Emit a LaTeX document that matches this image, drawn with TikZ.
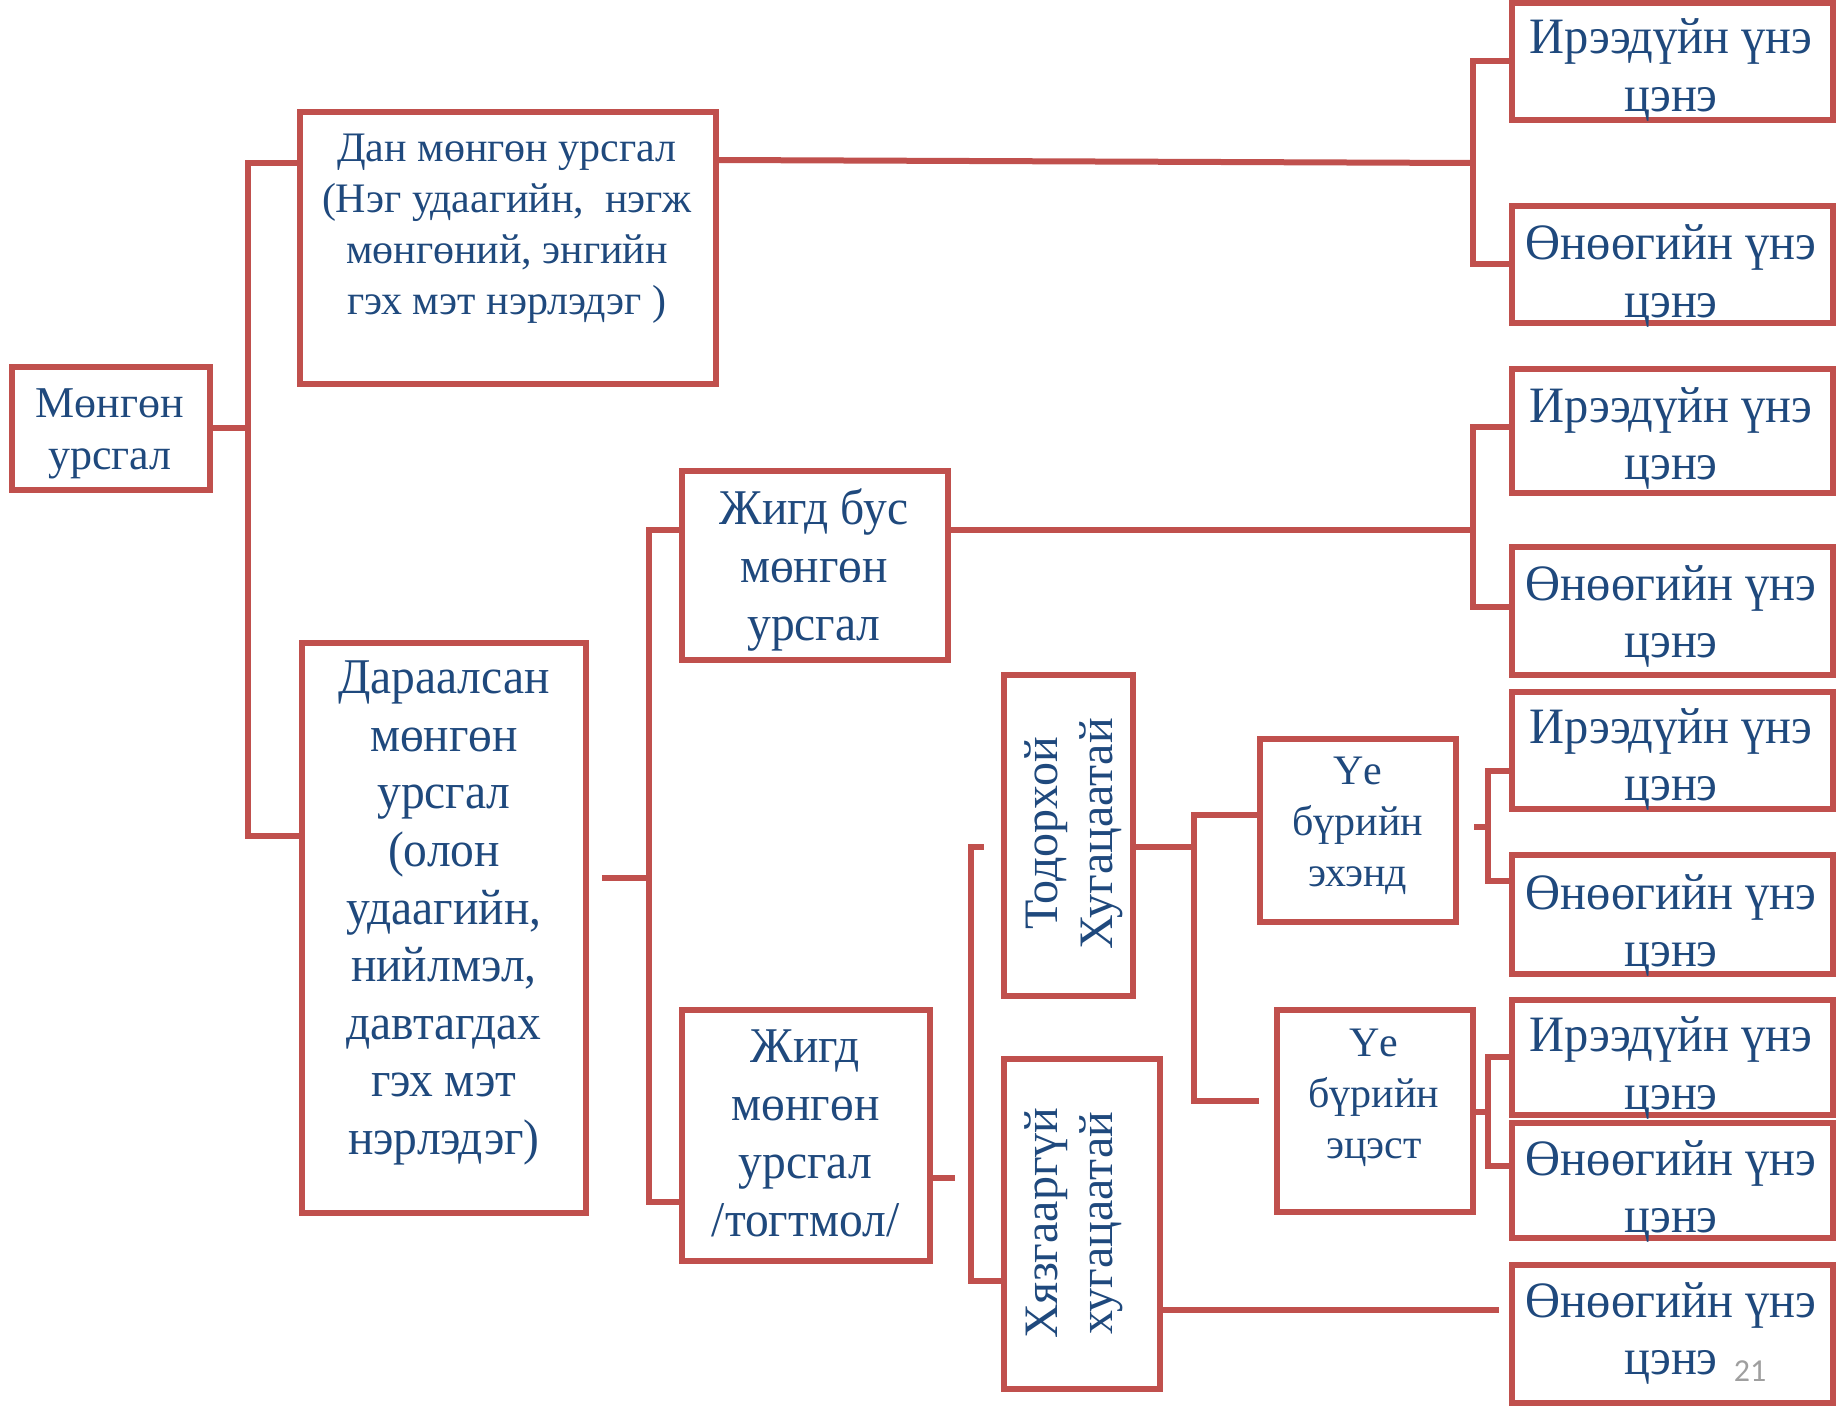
\documentclass[tikz,border=0pt]{standalone}
\usepackage{fontspec}
\setmainfont{Liberation Serif}
\newfontfamily\narrowserif{Liberation Serif}[FakeStretch=0.95]
\newfontfamily\numfont{Carlito}
\definecolor{boxred}{HTML}{C0504D}
\definecolor{txtblue}{HTML}{1F497D}
\begin{document}
\begin{tikzpicture}[x=0.5pt,y=-0.5pt,
  box/.style 2 args={draw=boxred, line width=3pt, fill=none, inner sep=0pt,
     minimum width=#1*0.5pt, minimum height=#2*0.5pt},
  txt/.style={text=txtblue, align=center, inner sep=0pt},
  conn/.style={draw=boxred, line width=3pt, line join=miter},
  fR/.style={font=\narrowserif\fontsize{25.5}{28.75}\selectfont},
  fM/.style={font=\fontsize{22}{26}\selectfont},
  fDan/.style={font=\fontsize{21}{25.5}\selectfont},
  fD/.style={font=\narrowserif\fontsize{25}{28.8}\selectfont},
  fJ/.style={font=\narrowserif\fontsize{25}{29}\selectfont},
  fT/.style={font=\fontsize{24}{27.5}\selectfont},
  fE/.style={font=\fontsize{21}{25.5}\selectfont}]
\useasboundingbox (0,0) rectangle (1841,1408);

% boxes
\node[box={198}{123}] (m) at (110.5,428) {};
\node[box={416}{272}] (dan) at (507.5,247.5) {};
\node[box={284}{570}] (d) at (443.5,927.5) {};
\node[box={266}{189}] (jb) at (814.5,565) {};
\node[box={248}{251}] (j) at (805.5,1135) {};
\node[box={129}{321}] (t) at (1068,835) {};
\node[box={156}{330}] (h) at (1081.5,1223.5) {};
\node[box={196}{183}] (e1) at (1357.5,830) {};
\node[box={196}{202}] (e2) at (1374.5,1110.5) {};
\node[box={321}{117}] (r1) at (1672,61) {};
\node[box={321}{117}] (r2) at (1672,264) {};
\node[box={321}{124}] (r3) at (1672,430.5) {};
\node[box={321}{128}] (r4) at (1672,610.5) {};
\node[box={321}{117}] (r5) at (1672,750) {};
\node[box={321}{119}] (r6) at (1672,914) {};
\node[box={321}{115}] (r7) at (1672,1057) {};
\node[box={321}{115}] (r8) at (1672,1180) {};
\node[box={321}{138}] (r9) at (1672,1333.5) {};

% texts
\node[txt,fM] (mt) at (110,434) {Мөнгөн\\урсгал};
\node[txt,fDan] (dant) at (507,229) {Дан мөнгөн урсгал\\(Нэг удаагийн,\ \ нэгж\\мөнгөний, энгийн\\гэх мэт нэрлэдэг )};
\node[txt,fD] (dt) at (444,913) {Дараалсан\\мөнгөн\\урсгал\\(олон\\удаагийн,\\нийлмэл,\\давтагдах\\гэх мэт\\нэрлэдэг)};
\node[txt,fJ] (jbt) at (814,569.5) {Жигд бус\\мөнгөн\\урсгал};
\node[txt,fJ] (jt) at (805.5,1133.5) {Жигд\\мөнгөн\\урсгал\\/тогтмол/};
\node[txt,fT,rotate=90] (tt) at (1073.5,833.5) {Тодорхой\\Хугацаатай};
\node[txt,fT,rotate=90] (ht) at (1073.5,1223) {Хязгааргүй\\хугацаатай};
\node[txt,fE] (e1t) at (1358,826) {Үе\\бүрийн\\эхэнд};
\node[txt,fE] (e2t) at (1374,1097.5) {Үе\\бүрийн\\эцэст};
\node[txt,fR] (r1t) at (1671,70) {Ирээдүйн үнэ\\цэнэ};
\node[txt,fR] (r2t) at (1671,276) {Өнөөгийн үнэ\\цэнэ};
\node[txt,fR] (r3t) at (1671,438.5) {Ирээдүйн үнэ\\цэнэ};
\node[txt,fR] (r4t) at (1671,616.5) {Өнөөгийн үнэ\\цэнэ};
\node[txt,fR] (r5t) at (1671,759.5) {Ирээдүйн үнэ\\цэнэ};
\node[txt,fR] (r6t) at (1671,925.5) {Өнөөгийн үнэ\\цэнэ};
\node[txt,fR] (r7t) at (1671,1068) {Ирээдүйн үнэ\\цэнэ};
\node[txt,fR] (r8t) at (1671,1191.5) {Өнөөгийн үнэ\\цэнэ};
\node[txt,fR] (r9t) at (1671,1333.5) {Өнөөгийн үнэ\\цэнэ};
\node[text=gray!75, inner sep=0pt, font=\numfont\fontsize{16}{16}\selectfont] (pg) at (1750,1371) {21};

% junction coordinates
\coordinate (a1) at (248,163);
\coordinate (a2) at (248,836);
\coordinate (b0) at (1473,163);
\coordinate (b1) at (1473,61);
\coordinate (b2) at (1473,264);
\coordinate (c0) at (602,878);
\coordinate (c1) at (649,878);
\coordinate (c2) at (649,530);
\coordinate (c3) at (649,1202);
\coordinate (d0) at (1473,530);
\coordinate (d1) at (1473,427);
\coordinate (d2) at (1473,607);
\coordinate (f0) at (955,1178);
\coordinate (g1) at (971,847);
\coordinate (g2) at (971,1281);
\coordinate (k0) at (1194,847);
\coordinate (k1) at (1194,815);
\coordinate (k2) at (1194,1101);
\coordinate (k3) at (1259,1101);
\coordinate (p0) at (1474,827);
\coordinate (p1) at (1488,827);
\coordinate (p2) at (1488,771);
\coordinate (p3) at (1488,881);
\coordinate (q0) at (1488,1112);
\coordinate (q1) at (1488,1057);
\coordinate (q2) at (1488,1166);
\coordinate (s0) at (1499,1310);

% connectors
\draw[conn] (m.east) -- (m.east -| a1);
\draw[conn] (dan.west |- a1) -- (a1) -- (a2) -- (d.west |- a2);
\draw[conn] (dan.east |- 0,160) -- (b0);
\draw[conn] (r1.west |- b1) -- (b1) -- (b2) -- (r2.west |- b2);
\draw[conn] (c0) -- (c1);
\draw[conn] (jb.west |- c2) -- (c2) -- (c3) -- (j.west |- c3);
\draw[conn] (jb.east |- d0) -- (d0);
\draw[conn] (r3.west |- d1) -- (d1) -- (d2) -- (r4.west |- d2);
\draw[conn] (j.east |- f0) -- (f0);
\draw[conn] (t.west |- g1) ++(-17,0) -- (g1) -- (g2) -- (h.west |- g2);
\draw[conn] (t.east |- k0) -- (k0);
\draw[conn] (e1.west |- k1) -- (k1) -- (k2) -- (k3);
\draw[conn] (p0) -- (p1);
\draw[conn] (r5.west |- p2) -- (p2) -- (p3) -- (r6.west |- p3);
\draw[conn] (e2.east |- q0) -- (q0);
\draw[conn] (r7.west |- q1) -- (q1) -- (q2) -- (r8.west |- q2);
\draw[conn] (h.east |- s0) -- (s0);
\end{tikzpicture}
\end{document}
